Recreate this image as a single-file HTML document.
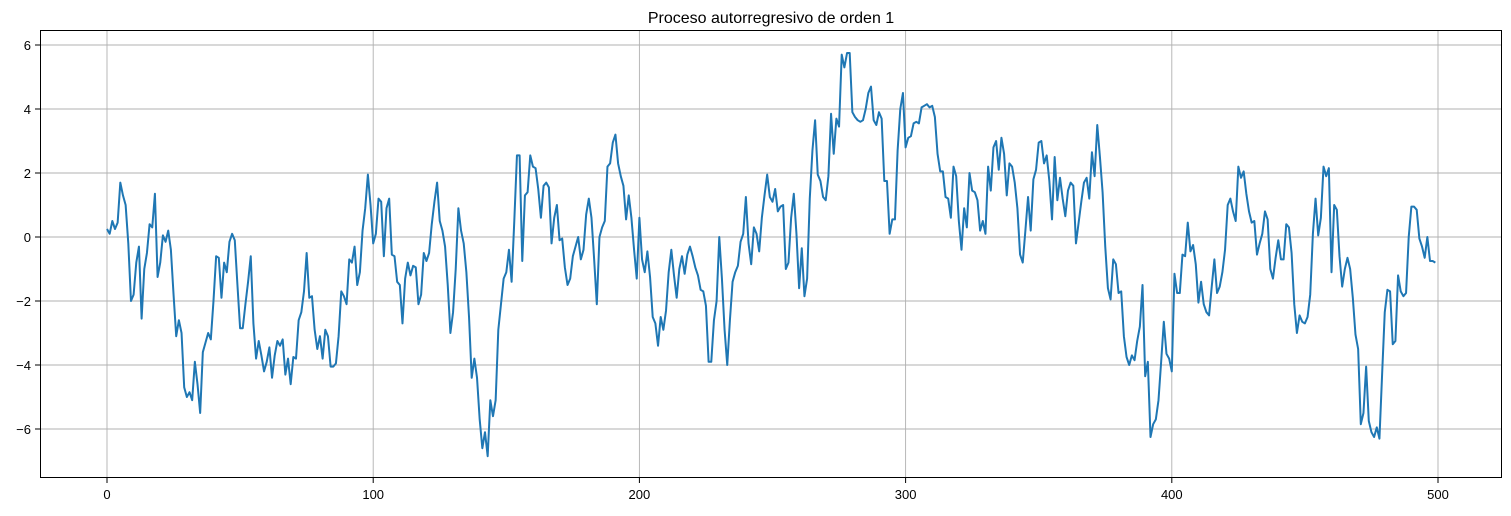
<!DOCTYPE html>
<html><head><meta charset="utf-8"><style>
html,body{margin:0;padding:0;background:#fff;}
svg text{font-family:"Liberation Sans","DejaVu Sans",sans-serif;fill:#000;}
</style></head><body>
<svg id="chart" width="1511" height="511" xmlns="http://www.w3.org/2000/svg">
<rect width="1511" height="511" fill="#fff"/>
<text x="771" y="23" font-size="16" text-anchor="middle">Proceso autorregresivo de orden 1</text>
<g id="grid"></g>
<g id="ticks"></g>
<g id="series"></g>
<rect x="40.5" y="30.5" width="1461" height="447" fill="none" stroke="#000" stroke-width="1"/>
</svg>
<script>
const values = [0.25,0.1,0.5,0.25,0.45,1.7,1.3,1.0,-0.2,-2.0,-1.8,-0.8,-0.3,-2.55,-1.0,-0.5,0.4,0.3,1.35,-1.25,
-0.8,0.05,-0.15,0.2,-0.4,-1.8,-3.1,-2.6,-3.0,-4.7,-5.0,-4.85,-5.1,-3.9,-4.6,-5.5,-3.6,-3.3,-3.0,-3.2,
-2.0,-0.6,-0.65,-1.9,-0.8,-1.1,-0.15,0.1,-0.1,-1.5,-2.85,-2.85,-2.1,-1.4,-0.6,-2.7,-3.8,-3.25,-3.7,-4.2,
-3.9,-3.45,-4.4,-3.7,-3.25,-3.4,-3.2,-4.3,-3.8,-4.6,-3.75,-3.8,-2.6,-2.35,-1.7,-0.5,-1.9,-1.85,-2.9,-3.5,
-3.1,-3.8,-2.9,-3.1,-4.05,-4.05,-3.95,-3.1,-1.7,-1.85,-2.1,-0.7,-0.8,-0.3,-1.5,-1.1,0.2,0.9,1.95,1.0,
-0.2,0.1,1.2,1.1,-0.6,0.9,1.2,-0.55,-0.6,-1.4,-1.5,-2.7,-1.3,-0.8,-1.2,-0.9,-0.95,-2.1,-1.8,-0.5,
-0.75,-0.5,0.4,1.1,1.7,0.5,0.2,-0.3,-1.5,-3.0,-2.35,-1.0,0.9,0.2,-0.2,-1.1,-2.5,-4.4,-3.8,-4.4,
-5.7,-6.6,-6.1,-6.85,-5.1,-5.6,-5.1,-2.9,-2.1,-1.3,-1.1,-0.4,-1.4,0.5,2.55,2.55,-0.75,1.3,1.4,2.55,
2.2,2.15,1.5,0.6,1.6,1.7,1.55,-0.2,0.6,1.0,-0.1,-0.05,-0.95,-1.5,-1.3,-0.6,-0.3,0.0,-0.7,-0.4,
0.7,1.2,0.6,-0.7,-2.1,0.0,0.3,0.5,2.2,2.3,2.95,3.2,2.3,1.9,1.6,0.55,1.3,0.6,-0.4,-1.3,
0.6,-0.7,-1.1,-0.45,-1.25,-2.5,-2.7,-3.4,-2.5,-2.9,-2.3,-1.1,-0.4,-1.2,-1.9,-1.0,-0.6,-1.15,-0.55,-0.3,
-0.6,-0.95,-1.2,-1.65,-1.7,-2.15,-3.9,-3.9,-2.6,-2.0,0.0,-1.3,-2.9,-4.0,-2.6,-1.4,-1.1,-0.9,-0.15,0.1,
1.25,-0.2,-0.85,0.3,0.1,-0.45,0.6,1.3,1.95,1.25,1.1,1.5,0.8,0.95,1.0,-1.0,-0.8,0.6,1.35,0.1,
-1.6,-0.35,-1.85,-1.3,1.2,2.7,3.65,1.95,1.75,1.25,1.15,1.9,3.85,2.6,3.7,3.45,5.7,5.3,5.75,5.75,
3.9,3.75,3.65,3.6,3.65,4.0,4.5,4.7,3.65,3.5,3.9,3.7,1.75,1.75,0.1,0.55,0.55,2.7,4.0,4.5,
2.8,3.1,3.15,3.55,3.6,3.55,4.05,4.1,4.15,4.05,4.1,3.75,2.6,2.05,2.05,1.25,1.2,0.6,2.2,1.9,
0.5,-0.4,0.9,0.3,2.0,1.45,1.4,1.15,0.2,0.5,0.1,2.2,1.45,2.8,3.0,2.1,3.1,2.6,1.3,2.3,
2.2,1.7,0.9,-0.55,-0.8,0.2,1.25,0.2,1.8,2.1,2.95,3.0,2.3,2.55,1.75,0.55,2.5,1.15,1.85,1.2,
0.65,1.45,1.7,1.6,-0.2,0.45,1.1,1.7,1.85,1.2,2.65,1.9,3.5,2.5,1.4,-0.3,-1.6,-1.95,-0.7,-0.85,
-1.75,-1.7,-3.1,-3.75,-4.0,-3.7,-3.85,-3.25,-2.8,-1.5,-4.35,-3.9,-6.25,-5.85,-5.7,-5.1,-3.9,-2.65,-3.65,-3.8,
-4.2,-1.15,-1.75,-1.75,-0.55,-0.6,0.45,-0.45,-0.25,-0.85,-2.05,-1.4,-2.1,-2.35,-2.45,-1.55,-0.7,-1.75,-1.55,-1.1,
-0.4,1.0,1.2,0.8,0.5,2.2,1.85,2.05,1.35,0.8,0.45,0.5,-0.55,-0.2,0.1,0.8,0.55,-1.0,-1.3,-0.65,
-0.1,-0.7,-0.7,0.4,0.3,-0.5,-2.1,-3.0,-2.45,-2.65,-2.7,-2.5,-1.8,0.1,1.2,0.05,0.6,2.2,1.9,2.15,
-1.1,1.0,0.85,-0.6,-1.55,-1.0,-0.65,-1.0,-1.9,-3.05,-3.5,-5.85,-5.5,-4.05,-5.75,-6.1,-6.25,-5.95,-6.3,-4.3,
-2.35,-1.65,-1.7,-3.35,-3.25,-1.2,-1.7,-1.85,-1.75,0.0,0.95,0.95,0.85,-0.05,-0.3,-0.65,0.0,-0.75,-0.75,-0.8];
const xTicks = [0,100,200,300,400,500];
const yTicks = [-6,-4,-2,0,2,4,6];

const NS='http://www.w3.org/2000/svg';
const xScale = v => 107 + v * (1438 - 107) / 500;
const yScale = v => 237 - v * 32;
const grid=document.getElementById('grid'), ticks=document.getElementById('ticks'), series=document.getElementById('series');
function mk(tag, attrs){const e=document.createElementNS(NS,tag);for(const k in attrs)e.setAttribute(k,attrs[k]);return e;}
xTicks.forEach(t=>{
  const x=xScale(t);
  const g=mk('line',{x1:x,x2:x,y1:30,y2:478,stroke:'#b0b0b0','stroke-width':0.9});
  
  
  grid.appendChild(g);
  const tk=mk('line',{x1:x,x2:x,y1:478,y2:483,stroke:'#000','stroke-width':1});
  
  
  ticks.appendChild(tk);
  const tx=mk('text',{x:x,y:499,'font-size':13,'text-anchor':'middle'});
  tx.textContent=t;
  
  
  ticks.appendChild(tx);
});
yTicks.forEach(t=>{
  const y=yScale(t);
  const g=mk('line',{x1:40,x2:1502,y1:y,y2:y,stroke:'#b0b0b0','stroke-width':0.9});
  
  
  grid.appendChild(g);
  const tk=mk('line',{x1:35,x2:40,y1:y,y2:y,stroke:'#000','stroke-width':1});
  
  
  ticks.appendChild(tk);
  const tx=mk('text',{x:31,y:y+5,'font-size':13,'text-anchor':'end'});
  tx.textContent=(t<0?'\u2212'+(-t):t);
  
  
  ticks.appendChild(tx);
});
const pts=values.map((v,i)=>xScale(i).toFixed(2)+','+yScale(v).toFixed(2)).join(' ');
const line=mk('polyline',{points:pts,fill:'none',stroke:'#1f77b4','stroke-width':2,'stroke-linejoin':'round'});


series.appendChild(line);
</script>
</body></html>
